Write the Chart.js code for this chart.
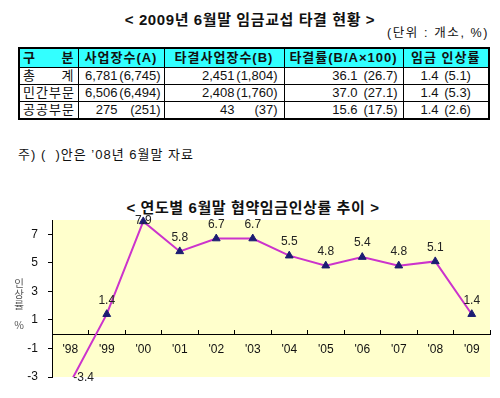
<!DOCTYPE html>
<html lang="ko">
<head>
<meta charset="utf-8">
<script src="https://cdn.jsdelivr.net/npm/chart.js@4.4.1/dist/chart.umd.min.js"></script>
<style>
  body {
    margin: 0; width: 500px; height: 398px; position: relative; overflow: hidden;
    background: #fff; color: #111;
    font-family: "Liberation Sans", "Noto Sans CJK KR", sans-serif;
  }
  .title {
    position: absolute; left: 0; width: 500px; text-align: center;
    font-weight: bold; font-size: 15px; line-height: 17px; letter-spacing: 0.6px;
  }
  #mainTitle { top: 11px; }
  #chartTitle { top: 199px; left: 3px; }
  #unit { position: absolute; left: 387px; top: 25px; font-size: 12.5px; line-height: 16px; letter-spacing: 1.6px; }
  #note { position: absolute; left: 18px; top: 147px; font-size: 13px; line-height: 16px; letter-spacing: 1px; }
  table {
    position: absolute; left: 18px; top: 47px; width: 470px;
    border-collapse: collapse; border: 2px solid #000; table-layout: fixed; font-size: 13px;
  }
  td, th { border: 1px solid #000; padding: 0 4px; white-space: nowrap; overflow: hidden; }
  th { background: #33ffff; font-weight: bold; height: 18px; line-height: 18px; letter-spacing: 1px; text-align: center; }
  td { height: 16px; line-height: 16px; text-align: right; }
  td.name { text-align: left; padding: 0 3px; letter-spacing: 1px; }
  .split { display: flex; justify-content: space-between; }
  .p { display: inline-block; text-align: right; }
  td.c { text-align: center; word-spacing: 2px; }
  #chartBox { position: absolute; left: 0; top: 195px; }
</style>
</head>
<body>
<div class="title" id="mainTitle">&lt; 2009년 6월말 임금교섭 타결 현황 &gt;</div>
<div id="unit">(단위 : 개소, %)</div>
<table id="summary">
  <colgroup>
    <col style="width:59px"><col style="width:86px"><col style="width:120px"><col style="width:119px"><col style="width:86px">
  </colgroup>
  <thead>
    <tr>
      <th style="text-align:left;padding:0 3px"><div class="split"><span>구</span><span>분</span></div></th>
      <th>사업장수(A)</th>
      <th>타결사업장수(B)</th>
      <th>타결률(B/A×100)</th>
      <th>임금 인상률</th>
    </tr>
  </thead>
  <tbody id="rows"></tbody>
</table>
<div id="note">주) (&nbsp;&nbsp;)안은 ’08년 6월말 자료</div>
<div class="title" id="chartTitle">&lt; 연도별 6월말 협약임금인상률 추이 &gt;</div>
<canvas id="chartBox" width="500" height="203"></canvas>
<script>
// table data: June 2009 (June 2008 in brackets)
const sectors = ['총 계', '민간부문', '공공부문'];
const firms = [6781, 6506, 275];
const firmsPrev = [6745, 6494, 251];
const settled = [2451, 2408, 43];
const settledPrev = [1804, 1760, 37];
const settleRate = [36.1, 37.0, 15.6];
const settleRatePrev = [26.7, 27.1, 17.5];
const wageUp = [1.4, 1.4, 1.4];
const wageUpPrev = [5.1, 5.3, 2.6];

// chart data
const years = ["'98", "'99", "'00", "'01", "'02", "'03", "'04", "'05", "'06", "'07", "'08", "'09"];
const wageRates = [-3.4, 1.4, 7.9, 5.8, 6.7, 6.7, 5.5, 4.8, 5.4, 4.8, 5.1, 1.4];
const yTicks = [-3, -1, 1, 3, 5, 7];

const fmtInt = v => v.toLocaleString('en-US');
const fmtDec = v => v.toFixed(1);

function pairCell(a, b, w, pad) {
    return `<td style="padding-right:${pad}px">${a}<span class="p" style="width:${w}px">(${b})</span></td>`;
}

const tbody = document.getElementById('rows');
sectors.forEach((name, i) => {
    const nameCell = name.includes(' ')
        ? `<td class="name"><div class="split">${name.split(' ').map(s => `<span>${s}</span>`).join('')}</div></td>`
        : `<td class="name">${name}</td>`;
    const tr = document.createElement('tr');
    tr.innerHTML = nameCell
        + pairCell(fmtInt(firms[i]), fmtInt(firmsPrev[i]), 43, 3)
        + pairCell(fmtInt(settled[i]), fmtInt(settledPrev[i]), 43, 6)
        + pairCell(fmtDec(settleRate[i]), fmtDec(settleRatePrev[i]), 40, 5)
        + `<td class="c">${fmtDec(wageUp[i])} (${fmtDec(wageUpPrev[i])})</td>`;
    tbody.appendChild(tr);
});

// yellow plot area
const plotBackground = {
    id: 'plotBackground',
    beforeDraw(chart) {
        const {ctx, chartArea: a} = chart;
        ctx.save();
        ctx.fillStyle = '#ffffcc';
        ctx.fillRect(a.left, a.top, a.right - a.left, a.bottom - a.top);
        ctx.restore();
    }
};

// value labels above the points
const valueLabels = {
    id: 'valueLabels',
    afterDatasetsDraw(chart) {
        const {ctx, chartArea: a} = chart;
        const meta = chart.getDatasetMeta(0);
        ctx.save();
        ctx.font = '12px "Liberation Sans", Arial, sans-serif';
        ctx.fillStyle = '#222';
        ctx.textBaseline = 'middle';
        meta.data.forEach((pt, i) => {
            const text = fmtDec(wageRates[i]);
            if (pt.y > a.bottom) {
                // point below the axis minimum: label sits on the bottom edge
                ctx.textAlign = 'left';
                ctx.fillText(text, pt.x + 3, a.bottom + 1);
            } else {
                ctx.textAlign = 'center';
                ctx.fillText(text, pt.x, Math.max(pt.y - 14, a.top + 1));
            }
        });
        ctx.restore();
    }
};

// y axis title, characters stacked upright
const yTitle = {
    id: 'yTitle',
    afterDraw(chart) {
        const {ctx, chartArea: a} = chart;
        const cx = a.left - 33;
        const cy = (a.top + a.bottom) / 2;
        ctx.save();
        ctx.font = '10.5px "Noto Sans CJK KR", sans-serif';
        ctx.fillStyle = '#555';
        ctx.textAlign = 'center';
        ctx.textBaseline = 'middle';
        ['인', '상', '률'].forEach((ch, i) => ctx.fillText(ch, cx, cy - 15 + i * 11));
        ctx.fillText('%', cx, cy + 27);
        ctx.restore();
    }
};

const ctx = document.getElementById('chartBox').getContext('2d');
new Chart(ctx, {
    type: 'line',
    data: {
        labels: years,
        datasets: [{
            data: wageRates,
            borderColor: '#cc33cc',
            borderWidth: 2,
            tension: 0,
            pointStyle: 'triangle',
            pointRadius: 4.5,
            pointBackgroundColor: '#1c1c72',
            pointBorderColor: '#1c1c72',
            pointBorderWidth: 1,
            clip: {left: 0, right: 0, top: 6, bottom: 0}
        }]
    },
    options: {
        responsive: false,
        animation: false,
        layout: {padding: {top: 25, right: 10, bottom: 21, left: 0}},
        plugins: {
            legend: {display: false},
            tooltip: {enabled: false}
        },
        scales: {
            x: {
                position: {y: 0},
                offset: true,
                grid: {display: true, drawOnChartArea: false, offset: true, tickLength: -5, color: '#000'},
                border: {display: true, color: '#000', width: 1},
                ticks: {padding: 13, color: '#111', font: {size: 12, family: '"Liberation Sans", Arial, sans-serif'}}
            },
            y: {
                min: -3,
                max: 8,
                afterBuildTicks: axis => { axis.ticks = yTicks.map(v => ({value: v})); },
                afterFit: axis => { axis.width = 52; },
                grid: {display: true, drawOnChartArea: false, tickLength: 4, color: '#000'},
                border: {display: true, color: '#000', width: 1},
                ticks: {padding: 10, color: '#111', font: {size: 12, family: '"Liberation Sans", Arial, sans-serif'}}
            }
        }
    },
    plugins: [plotBackground, valueLabels, yTitle]
});
</script>
</body>
</html>
